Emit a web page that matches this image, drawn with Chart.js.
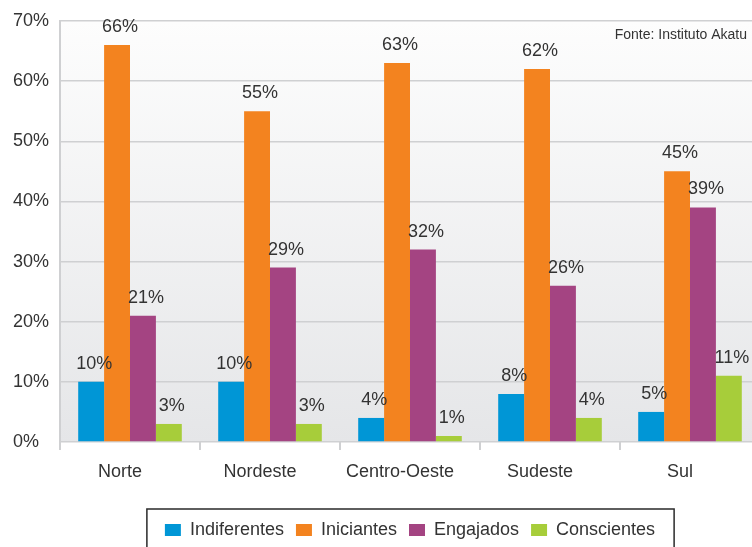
<!DOCTYPE html>
<html>
<head>
<meta charset="utf-8">
<script src="https://cdn.jsdelivr.net/npm/chart.js@4/dist/chart.umd.min.js"></script>
<style>
html,body{margin:0;padding:0;background:#fff;overflow:hidden;width:752px;height:547px;}
canvas{display:block;}
</style>
</head>
<body>
<canvas id="c" width="770" height="550"></canvas>
<script>
const regions = ['Norte', 'Nordeste', 'Centro-Oeste', 'Sudeste', 'Sul'];
const indiferentes = [10, 10, 4, 8, 5];
const iniciantes = [66, 55, 63, 62, 45];
const engajados = [21, 29, 32, 26, 39];
const conscientes = [3, 3, 1, 4, 11];
const seriesNames = ['Indiferentes', 'Iniciantes', 'Engajados', 'Conscientes'];
const yTicks = [0, 10, 20, 30, 40, 50, 60, 70];
const sourceNote = 'Fonte: Instituto Akatu';

const colors = ['#0096d6', '#f3831f', '#a44482', '#a7cd3a'];
const FONT = 'Arial, "Liberation Sans", sans-serif';
const TEXT = '#333333';

const bgPlugin = {
  id: 'bg',
  beforeDraw(chart) {
    const {ctx, chartArea: a} = chart;
    const g = ctx.createLinearGradient(0, a.top, 0, a.bottom);
    g.addColorStop(0, '#fdfdfd');
    g.addColorStop(1, '#e5e6e8');
    ctx.save();
    ctx.fillStyle = g;
    ctx.fillRect(a.left, a.top, a.right - a.left, a.bottom - a.top);
    ctx.restore();
  }
};

const labelPlugin = {
  id: 'vals',
  afterDatasetsDraw(chart) {
    const {ctx} = chart;
    ctx.save();
    ctx.font = '18px ' + FONT;
    ctx.fillStyle = TEXT;
    ctx.textAlign = 'center';
    ctx.textBaseline = 'middle';
    chart.data.datasets.forEach((ds, i) => {
      chart.getDatasetMeta(i).data.forEach((bar, j) => {
        ctx.fillText(ds.data[j] + '%', bar.x + 3, bar.y - 18);
      });
    });
    ctx.restore();
  },
  afterDraw(chart) {
    const {ctx} = chart;
    ctx.save();
    ctx.font = '14px ' + FONT;
    ctx.fillStyle = TEXT;
    ctx.textAlign = 'right';
    ctx.textBaseline = 'middle';
    ctx.fillText(sourceNote, 747, 35);
    const hb = chart.legend.legendHitBoxes;
    if (hb && hb.length) {
      const l = hb[0].left - 18;
      const r = hb[hb.length - 1].left + hb[hb.length - 1].width + 19;
      const t = hb[0].top - 12;
      ctx.strokeStyle = '#2a2a2a';
      ctx.lineWidth = 1.5;
      ctx.strokeRect(l, t, r - l, 80);
    }
    ctx.restore();
  }
};

const series = [indiferentes, iniciantes, engajados, conscientes];

new Chart(document.getElementById('c'), {
  type: 'bar',
  data: {
    labels: regions,
    datasets: series.map((d, i) => ({
      label: seriesNames[i],
      data: d,
      backgroundColor: colors[i],
      borderWidth: 0,
      categoryPercentage: 0.74,
      barPercentage: 1.0
    }))
  },
  options: {
    responsive: false,
    animation: false,
    devicePixelRatio: 1,
    layout: {padding: {left: 13, top: 21, right: 10, bottom: 1}},
    plugins: {
      tooltip: {enabled: false},
      legend: {
        position: 'bottom',
        fullSize: false,
        labels: {
          boxWidth: 16,
          boxHeight: 12,
          padding: 12,
          color: TEXT,
          font: {size: 18, family: FONT}
        }
      }
    },
    scales: {
      x: {
        grid: {
          offset: true,
          drawOnChartArea: false,
          drawTicks: true,
          tickLength: 8,
          color: '#cfd0d2',
          lineWidth: 2
        },
        border: {display: false},
        ticks: {
          color: TEXT,
          font: {size: 18, family: FONT},
          padding: 11,
          labelOffset: -10
        },
        afterFit(s) { s.height = 67; }
      },
      y: {
        min: 0,
        max: 70,
        afterBuildTicks(s) { s.ticks = yTicks.map(v => ({value: v})); },
        grid: {
          color: '#cfd0d2',
          lineWidth: 1.5,
          drawTicks: false
        },
        border: {display: true, color: '#cfd0d2', width: 2},
        ticks: {
          color: TEXT,
          font: {size: 18, family: FONT},
          crossAlign: 'far',
          padding: 0,
          callback: v => v + '%'
        },
        afterFit(s) { s.width = 47; }
      }
    }
  },
  plugins: [bgPlugin, labelPlugin]
});
</script>
</body>
</html>
